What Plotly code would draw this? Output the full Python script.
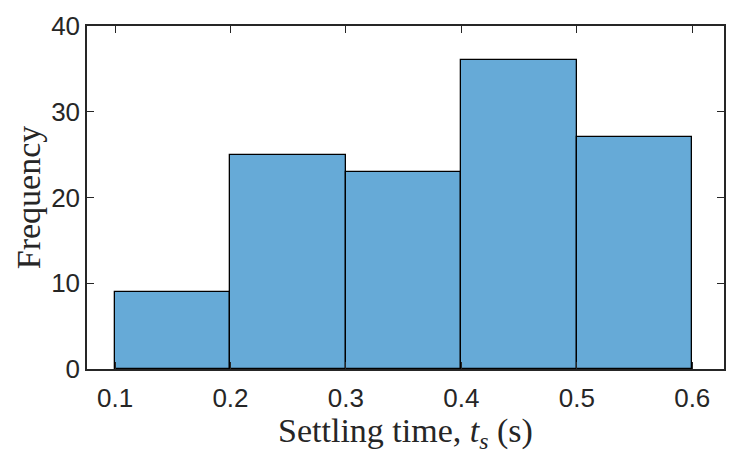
import plotly.graph_objects as go

bin_edges = [0.1, 0.2, 0.3, 0.4, 0.5, 0.6]
counts = [9, 25, 23, 36, 27]
x_ticks = [0.1, 0.2, 0.3, 0.4, 0.5, 0.6]
x_tick_labels = ["0.1", "0.2", "0.3", "0.4", "0.5", "0.6"]
y_ticks = [0, 10, 20, 30, 40]

centers = [(a + b) / 2 for a, b in zip(bin_edges[:-1], bin_edges[1:])]
widths = [b - a for a, b in zip(bin_edges[:-1], bin_edges[1:])]

fig = go.Figure(go.Bar(
    x=centers, y=counts, width=widths,
    marker=dict(color="#66AAD7", line=dict(color="#000000", width=1.3)),
))

axis_common = dict(
    showgrid=False, zeroline=False, showline=True, linecolor="#262626", linewidth=1.5,
    mirror="ticks", ticks="inside", ticklen=7, tickwidth=1.3, tickcolor="#262626",
    tickfont=dict(family="Liberation Sans, Arial", size=26, color="#262626"),
)

title_font = dict(family="Liberation Serif", size=34, color="#262626")

fig.update_layout(
    width=737, height=454,
    margin=dict(l=87, r=11, t=16, b=85),
    paper_bgcolor="white", plot_bgcolor="white",
    showlegend=False,
    bargap=0,
    xaxis=dict(range=[0.0757, 0.6275], tickvals=x_ticks, ticktext=x_tick_labels,
               ticklabelstandoff=5,
               title=dict(text="Settling time, <i>t<sub>s</sub></i> (s)",
                          font=title_font, standoff=0),
               **axis_common),
    yaxis=dict(range=[0, 40], tickvals=y_ticks,
               title=dict(text="Frequency", font=title_font, standoff=0),
               **axis_common),
)

fig.write_html("out.html")
